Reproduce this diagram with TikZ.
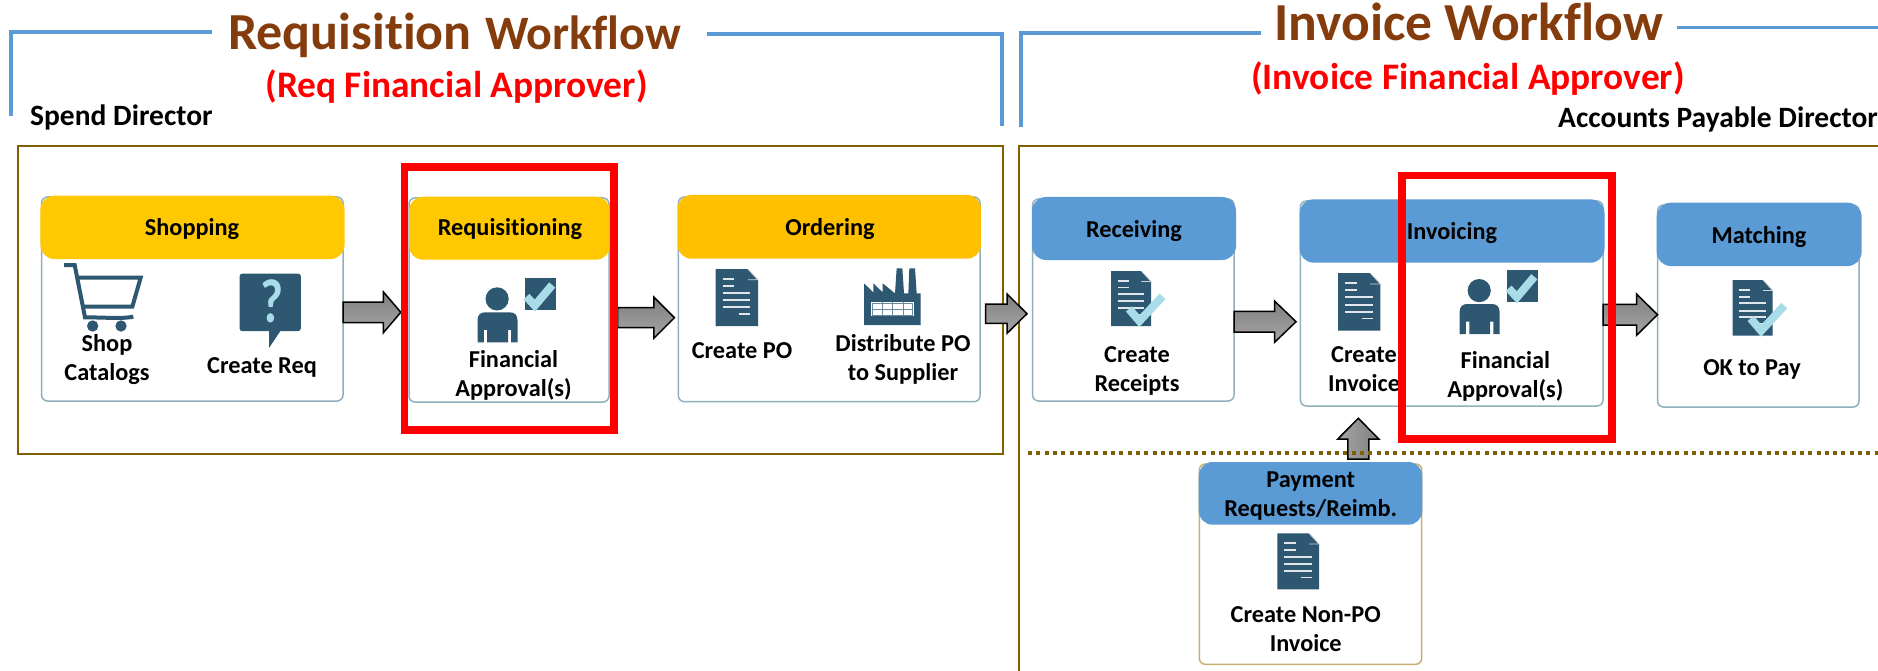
\documentclass[tikz,border=0pt]{standalone}
\usepackage{fontspec}
\setmainfont{Carlito}[Ligatures=CommonOff]
\usetikzlibrary{calc}
\definecolor{ink}{HTML}{2E5871}
\definecolor{chk}{HTML}{A9DCE9}
\definecolor{bluehead}{HTML}{5B9BD5}
\definecolor{brownline}{HTML}{7F6000}
\definecolor{titlebrown}{HTML}{843C0C}
\definecolor{cardline}{HTML}{8FB0BE}
\definecolor{tanline}{HTML}{C9AE74}
\tikzset{
  lbl/.style={font=\fontsize{24.3}{29}\selectfont\bfseries,inner sep=0pt,anchor=base,align=center,text=black},
  cardbox/.style={draw=cardline,line width=1.5pt,fill=white,rounded corners=6pt,inner sep=0pt,outer sep=0pt,anchor=north west},
  headbox/.style={rounded corners=14pt,inner sep=0pt,outer sep=0pt,anchor=north west},
  redbox/.style={draw=red,line width=7.6pt,inner sep=0pt,outer sep=0pt,anchor=north west},
  framebox/.style={draw=brownline,line width=2.5pt,inner sep=0pt,outer sep=0pt,anchor=north west},
  bluerule/.style={draw=bluehead,line width=4pt},
  blockarrow/.style={draw=black,line width=1.5pt,miter limit=10,top color=gray!100!black,bottom color=gray!70!white},
  upblock/.style={draw=black,line width=1.5pt,miter limit=10,left color=gray!70!white,right color=gray},
  chkline/.style={draw=chk,line width=8pt,miter limit=10},
}
% a rectangular node given by its corners
\newcommand\rectnode[6]{%
  \pgfmathsetmacro\rw{#5-#3}\pgfmathsetmacro\rh{#6-#4}%
  \node[#1,minimum width=\rw pt,minimum height=\rh pt] (#2) at (#3,#4) {};}
% horizontal block arrow: start, tip, head length, half shaft, half head
\newcommand\harrow[5]{%
  \path[blockarrow] let \p1=#1,\p2=#2 in
    (\x1,\y1+#4pt) -- (\x2-#3pt,\y1+#4pt) -- (\x2-#3pt,\y1+#5pt) -- (\x2,\y1)
    -- (\x2-#3pt,\y1-#5pt) -- (\x2-#3pt,\y1-#4pt) -- (\x1,\y1-#4pt) -- cycle;}
\newcommand\uparrowblock[5]{%
  \path[upblock] let \p1=#1,\p2=#2 in
    (\x1-#4pt,\y1) -- (\x1-#4pt,\y2-#3pt) -- (\x1-#5pt,\y2-#3pt) -- (\x1,\y2)
    -- (\x1+#5pt,\y2-#3pt) -- (\x1+#4pt,\y2-#3pt) -- (\x1+#4pt,\y1) -- cycle;}
% document icon; #5 = extra drawing in the icon's 0..100 coordinates
\newcommand\docicon[5]{%
  \pgfmathsetmacro\dw{(#3-#1)/100}\pgfmathsetmacro\dh{(#4-#2)/100}%
  \begin{scope}[shift={(#1,#2)},xscale=\dw,yscale=\dh]
    \fill[ink] (0,0) -- (76,0) -- (100,19) -- (100,100) -- (0,100) -- cycle;
    \draw[gray!35,line width=.8pt] (76,0) -- (100,19) -- (76,19);
    \draw[white!85!ink,line width=1.8pt]
      (17,18) -- (44,18) (17,30) -- (44,30)
      (17,42) -- (82,42) (17,55) -- (82,55) (17,67) -- (82,67) (56,79) -- (82,79);
    #5
  \end{scope}}
\newcommand\docchk{\draw[chkline] (45,69) -- (71,91) -- (129,46);}
% person with ticked box: body left, head top
\newcommand\personicon[2]{%
  \begin{scope}[shift={(#1,#2)}]
    \fill[ink] (19.6,11.6) circle (11.6);
    \fill[ink] (0,55) -- (0,33) .. controls (0,27.5) and (3,25) .. (8,25) -- (32,25)
      .. controls (37,25) and (40,27.5) .. (40,33) -- (40,55) -- (33.7,55) -- (33.7,42.5)
      -- (30.5,42.5) -- (30.5,55) -- (9.7,55) -- (9.7,42.5) -- (6.3,42.5) -- (6.3,55) -- cycle;
    \fill[ink] (47,-9) rectangle (78,23);
    \draw[chkline] (49,9.3) -- (57.3,18.3) -- (74.7,-2.3);
  \end{scope}}
\begin{document}
\begin{tikzpicture}[x=1pt,y=-1pt]
\clip (0,0) rectangle (1878,671);
\fill[white] (0,0) rectangle (1878,671);

% frames
\rectnode{framebox}{reqframe}{18}{146}{1003}{454}
\draw[brownline,line width=2.5pt] (1019,671) -- (1019,146) -- (1878,146);

% blue rules
\draw[bluerule] (11.4,116) -- (11.4,32) -- (212,32);
\draw[bluerule] (706.5,34.3) -- (1002.4,34.3) -- (1002.4,126);
\draw[bluerule] (1021,127) -- (1021,32.7) -- (1261,32.7);
\draw[bluerule,line width=3pt] (1676.7,27.3) -- (1878,27.3);

% titles
\node[inner sep=0pt,anchor=base west,text=titlebrown,font=\fontsize{52}{52}\selectfont\bfseries] (t1a) at (228,50) {Requisition};
\node[inner sep=0pt,anchor=base west,text=titlebrown,font=\fontsize{48}{48}\selectfont\bfseries] (t1b) at (485,50) {Workflow};
\node[inner sep=0pt,anchor=base,text=red,font=\fontsize{37.4}{37.4}\selectfont\bfseries] (t1c) at (456.5,98) {(Req Financial Approver)};
\node[inner sep=0pt,anchor=base west,font=\fontsize{29.5}{29.5}\selectfont\bfseries] (t1d) at (30,126) {Spend Director};
\node[inner sep=0pt,anchor=base west,text=titlebrown,font=\fontsize{53.5}{53.5}\selectfont\bfseries] (t2a) at (1274,41) {Invoice Workflow};
\node[inner sep=0pt,anchor=base,text=red,font=\fontsize{37.4}{37.4}\selectfont\bfseries] (t2c) at (1468,90) {(Invoice Financial Approver)};
\node[inner sep=0pt,anchor=base west,font=\fontsize{29.5}{29.5}\selectfont\bfseries] (t2d) at (1558,127.7) {Accounts Payable Director};

% cards
\rectnode{cardbox}{shopcard}{41.6}{197}{343}{401}
\rectnode{cardbox}{reqcard}{409}{198}{609}{402}
\rectnode{cardbox}{ordercard}{678.4}{197}{980}{401.7}
\rectnode{cardbox}{recvcard}{1032.6}{199}{1234}{401}
\rectnode{cardbox}{invcard}{1300.4}{201}{1603}{406}
\rectnode{cardbox}{matchcard}{1657.5}{205}{1859}{407}
\rectnode{cardbox,draw=tanline}{paycard}{1199.3}{464}{1421.7}{664.3}

% headers
\rectnode{headbox,fill={rgb,255:red,255;green,200;blue,0}}{shophead}{40.4}{195.7}{344.5}{259}
\rectnode{headbox,fill={rgb,255:red,255;green,200;blue,0}}{reqhead}{409}{196.7}{610}{259.7}
\rectnode{headbox,fill={rgb,255:red,255;green,192;blue,0}}{orderhead}{677.5}{195}{981}{258.7}
\rectnode{headbox,fill=bluehead}{recvhead}{1032}{197}{1236}{260}
\rectnode{headbox,fill=bluehead}{invhead}{1299.6}{199.3}{1604.5}{262.7}
\rectnode{headbox,fill=bluehead}{matchhead}{1656.7}{202.7}{1861.6}{266}
\rectnode{headbox,fill=bluehead}{payhead}{1198.7}{462}{1422.3}{524.7}

% arrows
\coordinate (a2tip) at ($(ordercard.west |- 0,317.7)+(-4,0)$);
\coordinate (a3s) at ($(ordercard.east |- 0,313.7)+(5.7,0)$);
\coordinate (a3tip) at ($(recvcard.west |- 0,313.7)+(-5.6,0)$);
\coordinate (a4tip) at ($(invcard.west |- 0,321.7)+(-4.4,0)$);
\coordinate (a6s) at ($(payhead.north)+(47.8,-3)$);
\coordinate (a6tip) at ($(invcard.south |- 0,418.3)+(-93.4,0)$);
\harrow{(shopcard.east |- 0,312.3)}{(400.8,312.3)}{17.5}{10.3}{20.5}
\harrow{(617.6,317.7)}{(a2tip)}{20.5}{10}{20.5}
\harrow{(a3s)}{(a3tip)}{20}{9.7}{19.7}
\harrow{(recvcard.east |- 0,321.7)}{(a4tip)}{21.5}{10.3}{20.7}
\harrow{(invcard.east |- 0,314.7)}{(matchcard.west |- 0,314.7)}{21}{10.3}{20.7}
\uparrowblock{(a6s)}{(a6tip)}{20.7}{10.5}{20.5}
\draw[brownline,line width=4pt,dash pattern=on 4pt off 4.3pt] (1028,452.5) -- (1878,452.5);

% cart
\begin{scope}[shift={(50,255)},scale=1/3]
  \draw[ink,line width=4pt] (42,30) -- (74,30) -- (105,187) .. controls (160,187) and (220,192) .. (250,185);
  \draw[ink,line width=4pt] (85,68) -- (272,68) -- (247,155) -- (95,155);
  \fill[ink] (128,213) circle (17) (213,213) circle (17);
\end{scope}

% question bubble
\fill[ink,rounded corners=2.5pt] (239.6,273.7) rectangle (300.8,331);
\fill[ink] (269,330) -- (269,348) -- (281,330) -- cycle;
\node[inner sep=0pt,text=chk,xscale=.8,font=\fontsize{62}{62}\selectfont\bfseries] (qmark) at (271.5,301) {?};

% factory
\begin{scope}[shift={(700,260)},scale=1/3]
  \fill[ink] (492,70) -- (520,97) -- (520,70) -- (548,97) -- (548,70) -- (585,100) -- (590,25) -- (607,25) -- (612,100) -- (625,100) -- (628,25) -- (645,25) -- (650,100) -- (662,100) -- (662,195) -- (492,195) -- cycle;
  \fill[white] (514,127) rectangle (641,169);
  \draw[ink!70,line width=.8pt] (546,127) -- (546,169) (578,127) -- (578,169) (610,127) -- (610,169) (517,148) -- (638,148) (517,130) rectangle (638,166);
\end{scope}

% icons
\docicon{715.5}{269}{758}{326}{}
\docicon{1111}{271}{1151}{326}{\docchk}
\docicon{1338}{273}{1380.4}{330.7}{}
\docicon{1732.6}{280}{1772.7}{335.7}{\docchk}
\docicon{1277.3}{533.3}{1319}{589.3}{}
\personicon{477.5}{287.3}
\personicon{1459.6}{279}

% header labels
\node[lbl] (l1) at (192,235) {Shopping};
\node[lbl] (l2) at (510,235) {Requisitioning};
\node[lbl] (l3) at (830,235) {Ordering};
\node[lbl] (l4) at (1134,237) {Receiving};
\node[lbl] (l5) at (1452,239) {Invoicing};
\node[lbl] (l6) at (1759,243) {Matching};
\node[lbl] (l7) at (1310.7,516) {Payment\\Requests/Reimb.};
% card labels
\node[lbl] (c1) at (107,380) {Shop\\Catalogs};
\node[lbl] (c2) at (262,373) {Create Req};
\node[lbl] (c3) at (513.5,396) {Financial\\Approval(s)};
\node[lbl] (c4) at (742,358) {Create PO};
\node[lbl] (c5) at (903,380) {Distribute PO\\to Supplier};
\node[lbl] (c6) at (1137,391) {Create\\Receipts};
\node[lbl] (c7) at (1364,391) {Create\\Invoice};
\node[lbl] (c8) at (1505.3,397.7) {Financial\\Approval(s)};
\node[lbl] (c9) at (1752,375) {OK to Pay};
\node[lbl] (c10) at (1305.7,651.7) {Create Non-PO\\Invoice};

% red highlights
\rectnode{redbox}{redreq}{404.6}{167}{613.8}{430}
\rectnode{redbox}{redinv}{1401.8}{175.5}{1611.7}{439}
\end{tikzpicture}
\end{document}
